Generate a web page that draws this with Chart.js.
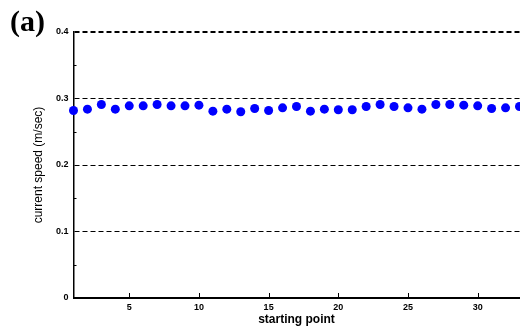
<!DOCTYPE html>
<html>
<head>
<meta charset="utf-8">
<script src="https://cdn.jsdelivr.net/npm/chart.js@4"></script>
<style>
  html, body { margin: 0; padding: 0; background: #fff; overflow: hidden; }
  #wrap { width: 520px; height: 327px; overflow: hidden; }
</style>
</head>
<body>
<div id="wrap"><canvas id="speedChart" width="524" height="327"></canvas></div>
<script>
// starting point index and measured current speed (m/sec)
const startPoints = [1, 2, 3, 4, 5, 6, 7, 8, 9, 10, 11, 12, 13, 14, 15, 16, 17,
                     18, 19, 20, 21, 22, 23, 24, 25, 26, 27, 28, 29, 30, 31, 32, 33];
const currentSpeed = [0.282, 0.284, 0.291, 0.284, 0.289, 0.289, 0.291, 0.289, 0.289, 0.290, 0.281,
                      0.284, 0.280, 0.285, 0.282, 0.286, 0.288, 0.281, 0.284, 0.283, 0.283,
                      0.288, 0.291, 0.288, 0.286, 0.284, 0.291, 0.291, 0.290, 0.289, 0.285,
                      0.286, 0.288];

const xTicks = [5, 10, 15, 20, 25, 30];
const yMajorTicks = [0, 0.1, 0.2, 0.3, 0.4];
const yMinorTicks = [0.05, 0.15, 0.25, 0.35];

const tickFont = { family: 'Liberation Sans, Arial, sans-serif', size: 9, weight: 'bold' };

// short tick marks pointing into the plot area
const innerTicks = {
    id: 'innerTicks',
    afterDatasetsDraw(chart) {
        const { ctx, chartArea, scales } = chart;
        ctx.save();
        ctx.strokeStyle = '#000';
        ctx.lineWidth = 1;
        ctx.beginPath();
        xTicks.forEach(v => {
            const px = Math.round(scales.x.getPixelForValue(v)) + 0.5;
            ctx.moveTo(px, chartArea.bottom);
            ctx.lineTo(px, chartArea.bottom - 5);
        });
        yMinorTicks.forEach(v => {
            const py = Math.round(scales.y.getPixelForValue(v)) + 0.5;
            ctx.moveTo(chartArea.left, py);
            ctx.lineTo(chartArea.left + 3, py);
        });
        ctx.stroke();
        ctx.restore();
    }
};

// panel label in the top-left corner
const panelLabel = {
    id: 'panelLabel',
    afterDraw(chart) {
        const ctx = chart.ctx;
        ctx.save();
        ctx.fillStyle = '#000';
        ctx.font = 'bold 30px "Liberation Serif", "Times New Roman", serif';
        ctx.textBaseline = 'alphabetic';
        ctx.fillText('(a)', 10, 31);
        ctx.restore();
    }
};

const ctx = document.getElementById('speedChart').getContext('2d');

new Chart(ctx, {
    type: 'scatter',
    data: {
        datasets: [{
            data: startPoints.map((p, i) => ({ x: p, y: currentSpeed[i] })),
            backgroundColor: '#0000ff',
            borderWidth: 0,
            pointRadius: 4.5,
            clip: false
        }]
    },
    options: {
        responsive: false,
        animation: false,
        layout: { padding: { top: 32, right: 2.5, left: 0, bottom: 0 } },
        plugins: {
            legend: { display: false },
            tooltip: { enabled: false }
        },
        scales: {
            x: {
                type: 'linear',
                min: 1,
                max: 33,
                afterFit: s => { s.height = 29; },
                afterBuildTicks: s => { s.ticks = xTicks.map(v => ({ value: v })); },
                grid: { display: false, drawTicks: false },
                border: { display: true, color: '#000', width: 2 },
                ticks: { color: '#000', font: tickFont, padding: 4, maxRotation: 0 },
                title: {
                    display: true,
                    text: 'starting point',
                    color: '#000',
                    font: { family: 'Liberation Sans, Arial, sans-serif', size: 12, weight: 'bold' },
                    padding: { top: 0, bottom: 0 }
                }
            },
            y: {
                min: 0,
                max: 0.4,
                afterFit: s => { s.width = 73.5; },
                afterBuildTicks: s => { s.ticks = yMajorTicks.map(v => ({ value: v })); },
                grid: {
                    drawTicks: false,
                    color: c => (c.tick && c.tick.value === 0) ? 'rgba(0,0,0,0)' : '#000',
                    lineWidth: c => (c.tick && c.tick.value === 0.4) ? 2 : 1
                },
                border: { display: true, color: '#000', width: 1.5, dash: [5, 3] },
                ticks: {
                    color: '#000',
                    font: tickFont,
                    padding: 5,
                    callback: v => v === 0 ? '0' : v.toFixed(1)
                },
                title: {
                    display: true,
                    text: 'current speed (m/sec)',
                    color: '#000',
                    font: { family: 'Liberation Sans, Arial, sans-serif', size: 12 },
                    padding: { top: 31, bottom: 0 }
                }
            }
        }
    },
    plugins: [innerTicks, panelLabel]
});
</script>
</body>
</html>
